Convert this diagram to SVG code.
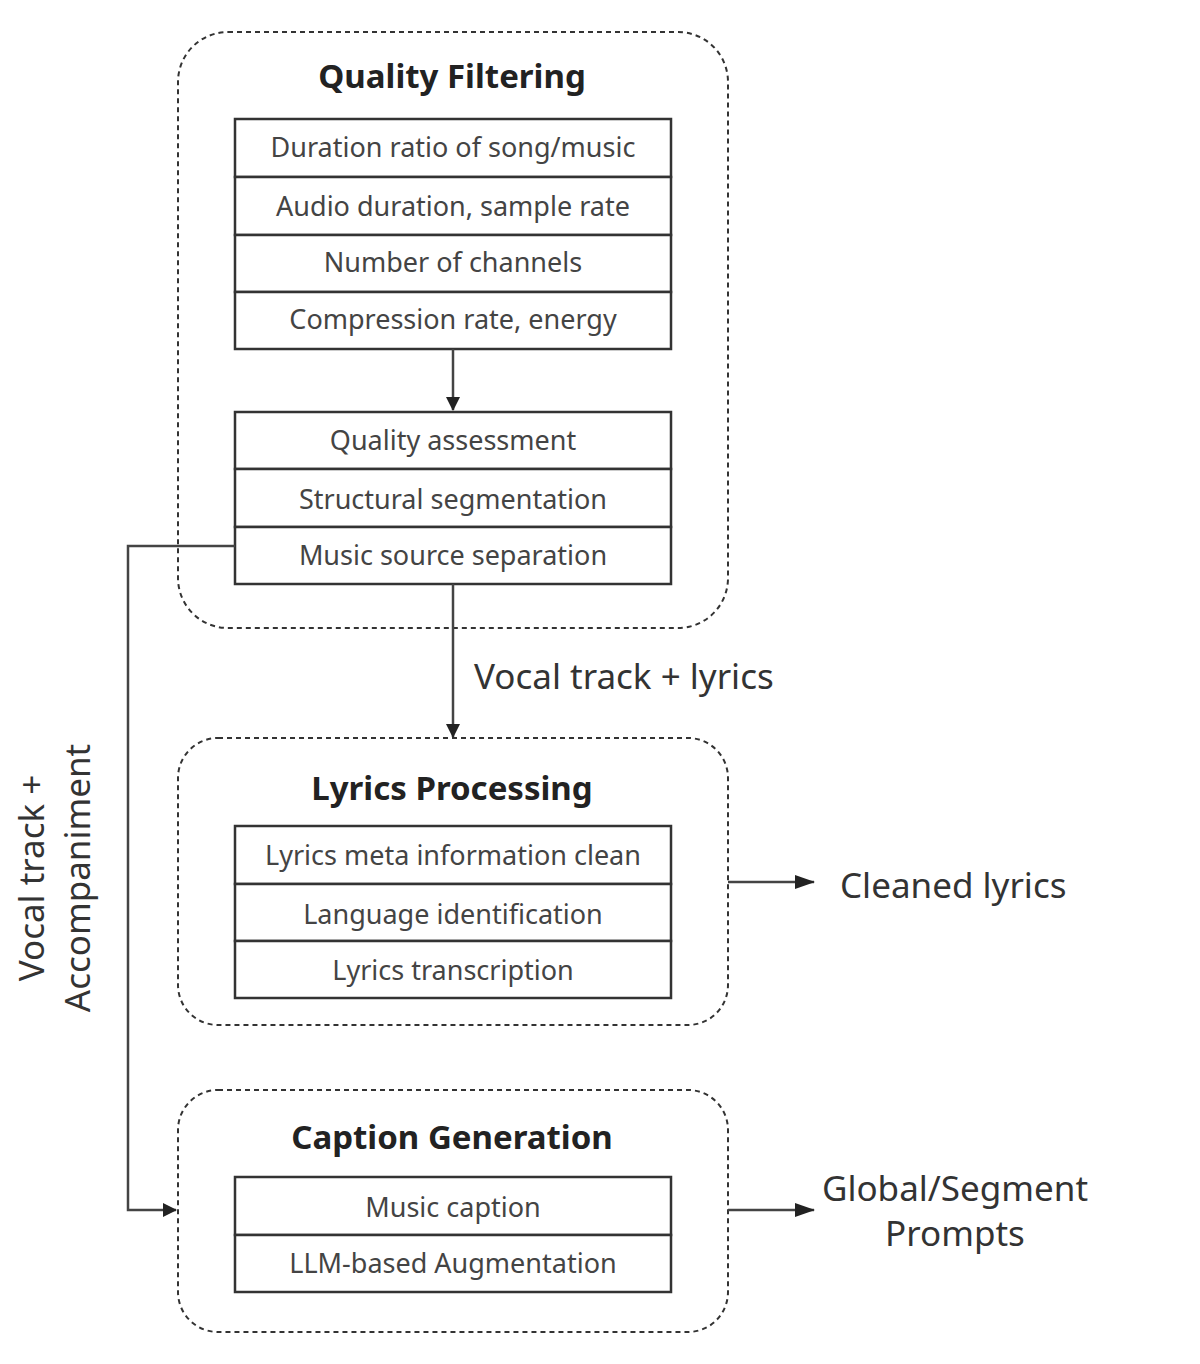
<svg xmlns="http://www.w3.org/2000/svg" width="1200" height="1364" viewBox="0 0 1200 1364">
<defs>
<style>
.grp{fill:none;stroke:#333;stroke-width:2;stroke-dasharray:5,4}
.cell{fill:#fff;stroke:#333;stroke-width:2.5}
.t{font-family:"Noto Sans","Liberation Sans",sans-serif;font-size:27px;fill:#444;text-anchor:middle}
.h{font-family:"Noto Sans","Liberation Sans",sans-serif;font-size:33px;font-weight:bold;fill:#222;text-anchor:middle}
.l{font-family:"Noto Sans","Liberation Sans",sans-serif;font-size:35px;fill:#333}
.c{fill:none;stroke:#444;stroke-width:2.5}
</style>
<marker id="a" markerWidth="14" markerHeight="14" refX="13" refY="7" orient="auto" markerUnits="userSpaceOnUse"><path d="M0,0 L14,7 L0,14 z" fill="#222"/></marker>
<marker id="b" markerWidth="20" markerHeight="14" refX="19" refY="7" orient="auto" markerUnits="userSpaceOnUse"><path d="M0,0 L20,7 L0,14 z" fill="#222"/></marker>
</defs>
<g id="quality">
<rect class="grp" x="178" y="32" width="550" height="596" rx="50"/>
<text class="h" x="452" y="88">Quality Filtering</text>
<rect class="cell" x="235" y="119" width="436" height="58"/>
<rect class="cell" x="235" y="177" width="436" height="58"/>
<rect class="cell" x="235" y="235" width="436" height="57"/>
<rect class="cell" x="235" y="292" width="436" height="57"/>
<text class="t" x="453" y="157">Duration ratio of song/music</text>
<text class="t" x="453" y="216">Audio duration, sample rate</text>
<text class="t" x="453" y="272">Number of channels</text>
<text class="t" x="453" y="329">Compression rate, energy</text>
<rect class="cell" x="235" y="412" width="436" height="57"/>
<rect class="cell" x="235" y="469" width="436" height="58"/>
<rect class="cell" x="235" y="527" width="436" height="57"/>
<text class="t" x="453" y="450">Quality assessment</text>
<text class="t" x="453" y="509">Structural segmentation</text>
<text class="t" x="453" y="565">Music source separation</text>
</g>
<g id="lyrics">
<rect class="grp" x="178" y="738" width="550" height="287" rx="40"/>
<text class="h" x="452" y="800">Lyrics Processing</text>
<rect class="cell" x="235" y="826" width="436" height="58"/>
<rect class="cell" x="235" y="884" width="436" height="57"/>
<rect class="cell" x="235" y="941" width="436" height="57"/>
<text class="t" x="453" y="865">Lyrics meta information clean</text>
<text class="t" x="453" y="924">Language identification</text>
<text class="t" x="453" y="980">Lyrics transcription</text>
</g>
<g id="caption">
<rect class="grp" x="178" y="1090" width="550" height="242" rx="40"/>
<text class="h" x="452" y="1149">Caption Generation</text>
<rect class="cell" x="235" y="1177" width="436" height="58"/>
<rect class="cell" x="235" y="1235" width="436" height="57"/>
<text class="t" x="453" y="1217">Music caption</text>
<text class="t" x="453" y="1273">LLM-based Augmentation</text>
</g>
<g id="connectors">
<line class="c" x1="453" y1="349" x2="453" y2="410" marker-end="url(#a)"/>
<line class="c" x1="453" y1="584" x2="453" y2="737" marker-end="url(#a)"/>
<polyline class="c" points="235,546 128,546 128,1210 176,1210" marker-end="url(#a)"/>
<line class="c" x1="728" y1="882" x2="814" y2="882" marker-end="url(#b)"/>
<line class="c" x1="728" y1="1210" x2="814" y2="1210" marker-end="url(#b)"/>
</g>
<g id="labels">
<text class="l" x="474" y="689">Vocal track + lyrics</text>
<text class="l" x="840" y="898">Cleaned lyrics</text>
<text class="l" x="955" y="1201" text-anchor="middle">Global/Segment</text>
<text class="l" x="955" y="1246" text-anchor="middle">Prompts</text>
<text class="l" transform="translate(44,878) rotate(-90)" text-anchor="middle">Vocal track +</text>
<text class="l" transform="translate(90,878) rotate(-90)" text-anchor="middle">Accompaniment</text>
</g>
</svg>
